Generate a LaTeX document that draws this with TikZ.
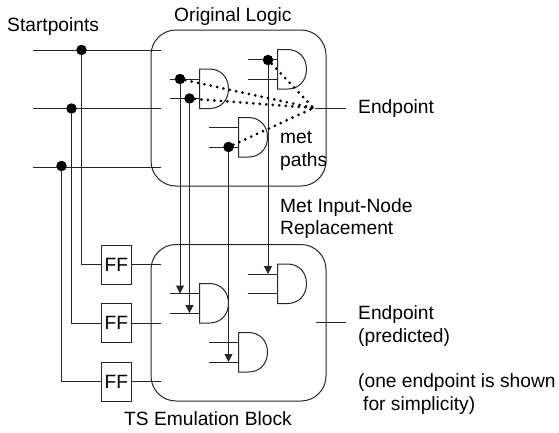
\documentclass[tikz,border=0pt]{standalone}
\usepackage{fontspec}
\setmainfont{Liberation Sans}
\usetikzlibrary{arrows.meta}
\tikzset{
  wire/.style={draw=black!85,line width=1pt},
  block/.style={draw=black!85,line width=1pt,rounded corners=25pt,minimum width=175pt,inner sep=0pt},
  ffbox/.style={draw=black!85,line width=1pt,minimum width=29.5pt,minimum height=39pt,inner sep=0pt},
  junction/.style={circle,fill=black,minimum size=10.5pt,inner sep=0pt},
  metpath/.style={line width=3pt,line cap=round,dash pattern=on 0pt off 6.5pt},
  feed/.style={wire,-{Triangle[length=8pt,width=8pt]}},
  txt/.style={anchor=base west,inner sep=0pt,font=\fontsize{19.2}{23}\selectfont}
}
\newcommand{\andgate}[3]{%
  \begin{scope}[shift={(#2,#3)}]
    \coordinate (#1-a) at (-30,10);
    \coordinate (#1-b) at (-30,29.5);
    \coordinate (#1-ia) at (0,10);
    \coordinate (#1-ib) at (0,29.5);
    \draw[wire] (0,0) -- (10,0) .. controls (21,0) and (29,8) .. (29,19.75)
      .. controls (29,31.5) and (21,39.5) .. (10,39.5) -- (0,39.5) -- cycle;
    \draw[wire] (#1-a) -- (#1-ia);
    \draw[wire] (#1-b) -- (#1-ib);
  \end{scope}}
\begin{document}
\begin{tikzpicture}[x=1pt,y=-1pt]
\useasboundingbox (0,0) rectangle (559,432);
% blocks
\node[block,minimum height=156pt] (orig) at (238.5,108) {};
\node[block,minimum height=156.5pt] (emu) at (238.5,322.75) {};
% gates
\andgate{ga}{199.5}{69}
\andgate{gb}{277.5}{49.5}
\andgate{gc}{238.5}{117.5}
\andgate{ha}{199.5}{283.5}
\andgate{hb}{277.5}{264}
\andgate{hc}{238.5}{332.5}
% startpoint wires
\coordinate (s1) at (33,50);
\coordinate (s2) at (33,108.5);
\coordinate (s3) at (33,167);
\coordinate (e1) at (161,50);
\coordinate (e2) at (161,108.5);
\coordinate (e3) at (161,167);
\draw[wire] (s1) -- (e1);
\draw[wire] (s2) -- (e2);
\draw[wire] (s3) -- (e3);
% flip-flops
\node[ffbox,txt,anchor=center] (ff1) at (116.25,264.5) {FF};
\node[ffbox,txt,anchor=center] (ff2) at (116.25,323) {FF};
\node[ffbox,txt,anchor=center] (ff3) at (116.25,381.5) {FF};
\coordinate (o1) at (161,264.5);
\coordinate (o2) at (161,323);
\coordinate (o3) at (161,381.5);
\draw[wire] (ff1) -- (o1);
\draw[wire] (ff2) -- (o2);
\draw[wire] (ff3) -- (o3);
% junctions on startpoints
\node[junction] (j1) at (81.5,50) {};
\node[junction] (j2) at (71.5,108.5) {};
\node[junction] (j3) at (61.5,166) {};
\draw[wire] (j1) |- (ff1.west);
\draw[wire] (j2) |- (ff2.west);
\draw[wire] (j3) |- (ff3.west);
% junctions on gate inputs
\node[junction] (k1) at (180,79) {};
\node[junction] (k2) at (189.5,98.5) {};
\node[junction] (k3) at (268,60) {};
\node[junction] (k4) at (228.5,147) {};
\draw[feed] (k1) -- (k1 |- ha-a);
\draw[feed] (k2) -- (k2 |- ha-b);
\draw[feed] (k3) -- (k3 |- hb-a);
\draw[feed] (k4) -- (k4 |- hc-b);
% endpoints
\coordinate (m) at (313.5,108);
\coordinate (ep1) at (315,108);
\coordinate (ep1e) at (346,108);
\coordinate (ep2) at (316,322.5);
\coordinate (ep2e) at (346,322.5);
\draw[wire] (ep1) -- (ep1e);
\draw[wire] (ep2) -- (ep2e);
% met paths
\draw[metpath] (k1) -- (m);
\draw[metpath] (k2) -- (m);
\draw[metpath] (k3) -- (m);
\draw[metpath] (k4) -- (m);
% labels
\node[txt] (t1) at (7,31) {Startpoints};
\node[txt] (t2) at (174,21) {Original Logic};
\node[txt] (t3) at (358,113) {Endpoint};
\node[txt] (t4) at (280,143) {met};
\node[txt] (t5) at (280,166) {paths};
\node[txt] (t6) at (280,212) {Met Input-Node};
\node[txt] (t7) at (280,234.5) {Replacement};
\node[txt] (t8) at (358,319) {Endpoint};
\node[txt] (t9) at (358,342) {(predicted)};
\node[txt] (t10) at (358,387) {(one endpoint is shown};
\node[txt] (t11) at (363,410) {for simplicity)};
\node[txt] (t12) at (124,425) {TS Emulation Block};
\end{tikzpicture}
\end{document}
